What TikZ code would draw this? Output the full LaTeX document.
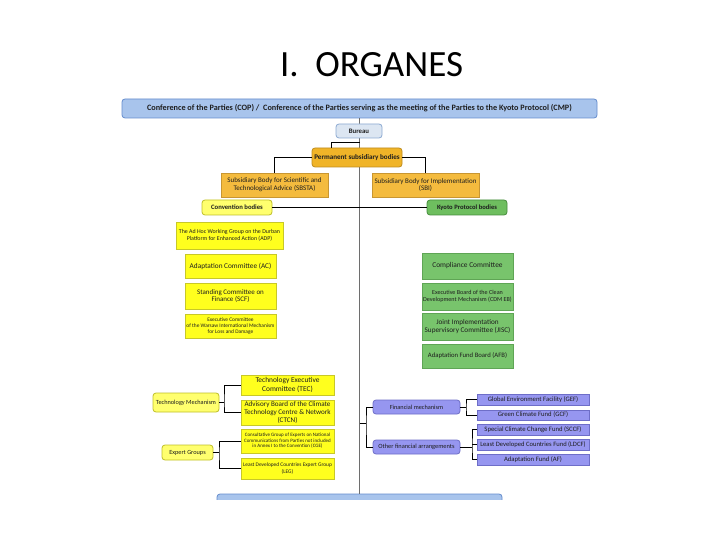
\documentclass[tikz,border=0pt]{standalone}
\usepackage{fontspec}
\setmainfont{Carlito}
\usetikzlibrary{calc}
\definecolor{copfill}{RGB}{168,196,236}
\definecolor{copdraw}{RGB}{100,140,205}
\definecolor{burfill}{RGB}{220,230,242}
\definecolor{burdraw}{RGB}{140,170,210}
\definecolor{permfill}{RGB}{240,180,40}
\definecolor{permdraw}{RGB}{190,140,30}
\definecolor{sbfill}{RGB}{244,187,62}
\definecolor{sbdraw}{RGB}{200,150,50}
\definecolor{convfill}{RGB}{255,255,110}
\definecolor{convdraw}{RGB}{190,190,40}
\definecolor{yelfill}{RGB}{255,255,30}
\definecolor{yeldraw}{RGB}{200,200,40}
\definecolor{kyfill}{RGB}{110,190,95}
\definecolor{kydraw}{RGB}{70,140,60}
\definecolor{grfill}{RGB}{120,196,108}
\definecolor{grdraw}{RGB}{95,165,85}
\definecolor{blfill}{RGB}{150,150,240}
\definecolor{bldraw}{RGB}{110,110,200}
\definecolor{txt}{RGB}{30,30,30}
\definecolor{trunkc}{RGB}{110,110,110}
\newcommand\fs[1]{\pgfmathsetmacro\fsb{#1*1.12}\fontsize{#1}{\fsb}\selectfont}
\newcommand\bx[8]{%
  \pgfmathsetmacro\bxw{#4-#2}\pgfmathsetmacro\bxh{#5-#3}%
  \node[#6, minimum width=\bxw pt, minimum height=\bxh pt, inner sep=0pt, align=center, text=txt, font=\fs{#7}] (#1) at ({(#2+#4)/2},{(#3+#5)/2}) {#8};}
\tikzset{
  copbox/.style={draw=copdraw, fill=copfill, rounded corners=3pt, line width=0.8pt},
  burbox/.style={draw=burdraw, fill=burfill, rounded corners=3pt, line width=0.8pt},
  permbox/.style={draw=permdraw, fill=permfill, rounded corners=3pt, line width=0.8pt},
  sbbox/.style={draw=sbdraw, fill=sbfill, line width=0.5pt},
  convbox/.style={draw=convdraw, fill=convfill, rounded corners=3pt, line width=0.8pt},
  yelbox/.style={draw=yeldraw, fill=yelfill, line width=0.5pt},
  kybox/.style={draw=kydraw, fill=kyfill, rounded corners=3pt, line width=0.8pt},
  grbox/.style={draw=grdraw, fill=grfill, line width=0.5pt},
  blrbox/.style={draw=bldraw, fill=blfill, rounded corners=3pt, line width=0.8pt},
  blbox/.style={draw=bldraw, fill=blfill, line width=0.5pt},
  conn/.style={draw=black, line width=1pt},
  trunk/.style={draw=trunkc, line width=1pt},
}
\begin{document}
\begin{tikzpicture}[x=1pt,y=-1pt]
\path[fill=white] (0,0) rectangle (720,540);
\useasboundingbox (0,0) rectangle (720,540);
\node[anchor=base, text=black, font=\fs{37}] (title) at (371.5,77) {I.\ \ ORGANES};
% COP bar
\bx{cop}{122}{99}{597}{118}{copbox}{8.2}{\bfseries Conference of the Parties (COP) /\ \ Conference of the Parties serving as the meeting of the Parties to the Kyoto Protocol (CMP)}
% bottom bar (clipped)
\begin{scope}
\clip (200,488) rectangle (520,499);
\bx{bot}{217}{494}{502}{512}{copbox}{6}{}
\end{scope}
% trunk
\draw[trunk] (cop.south) -- (bot.north);
% Bureau and permanent bodies
\bx{bur}{336}{124}{382}{138}{burbox}{6.8}{\bfseries Bureau}
\coordinate (bj) at (359.5,143);
\coordinate (bk) at (331,143);
\bx{perm}{312}{148}{402}{167}{permbox}{7.1}{\bfseries Permanent subsidiary bodies}
\draw[conn] (bj) -- (bk) -- (bk |- perm.north);
\bx{sbsta}{221}{173}{328}{197}{sbbox}{7.0}{Subsidiary Body for Scientific and\\Technological Advice (SBSTA)}
\bx{sbi}{372}{173}{479}{197}{sbbox}{7.0}{Subsidiary Body for Implementation\\(SBI)}
\draw[conn] (perm.west) -| (sbsta.north);
\draw[conn] (perm.east) -| (sbi.north);
% Convention / Kyoto
\bx{conv}{202}{200}{272}{215}{convbox}{6.7}{\bfseries Convention bodies}
\bx{kyoto}{427}{200}{507}{215}{kybox}{6.6}{\bfseries Kyoto Protocol bodies}
\draw[conn] (conv.east) -- (kyoto.west);
% Convention bodies column
\bx{adp}{176}{222}{283}{249}{yelbox}{5.9}{The Ad Hoc Working Group on the Durban\\Platform for Enhanced Action (ADP)}
\bx{ac}{185}{254}{276}{278}{yelbox}{7.3}{Adaptation Committee (AC)}
\bx{scf}{185}{283}{276}{309}{yelbox}{7.0}{Standing Committee on\\Finance (SCF)}
\bx{wim}{185}{314}{276}{338}{yelbox}{5.4}{Executive Committee\\of the Warsaw International Mechanism\\for Loss and Damage}
% Kyoto bodies column
\bx{cc}{422}{253}{513}{279}{grbox}{7.4}{Compliance Committee}
\bx{cdm}{422}{283}{513}{310}{grbox}{6.1}{Executive Board of the Clean\\Development Mechanism (CDM EB)}
\bx{jisc}{422}{313}{513}{340}{grbox}{7.2}{Joint Implementation\\Supervisory Committee (JISC)}
\bx{afb}{422}{344}{513}{368}{grbox}{6.7}{Adaptation Fund Board (AFB)}
% Technology mechanism
\bx{techm}{153}{393}{219}{412}{convbox}{6.3}{Technology Mechanism}
\bx{tec}{241}{375}{334}{395}{yelbox}{7.4}{Technology Executive\\Committee (TEC)}
\bx{ctcn}{241}{400}{334}{425}{yelbox}{7.1}{Advisory Board of the Climate\\Technology Centre \& Network\\(CTCN)}
\coordinate (tmj) at (224,402.5);
\draw[conn] (techm.east) -- (tmj);
\draw[conn] (tec.west) -| (tmj) |- (ctcn.west);
% Expert groups
\bx{expg}{162}{445}{213}{460}{convbox}{6.3}{Expert Groups}
\bx{cge}{241}{429}{334}{453}{yelbox}{5.0}{Consultative Group of Experts on National\\Communications from Parties not included\\in Annex I to the Convention (CGE)}
\bx{leg}{241}{458}{334}{479}{yelbox}{5.4}{Least Developed Countries Expert Group\\(LEG)}
\coordinate (egj) at (219,452.5);
\draw[conn] (expg.east) -- (egj);
\draw[conn] (cge.west) -| (egj) |- (leg.west);
% Financial
\bx{finm}{373}{400}{460}{414}{blrbox}{6.3}{Financial mechanism}
\bx{other}{373}{440}{460}{454}{blrbox}{6.4}{Other financial arrangements}
\coordinate (ft) at (359.5,423);
\coordinate (fj) at (366,423);
\draw[conn] (ft) -- (fj);
\draw[conn] (finm.west) -| (fj) |- (other.west);
\bx{gef}{477}{394}{589}{405}{blbox}{6.7}{Global Environment Facility (GEF)}
\bx{gcf}{477}{410}{589}{420}{blbox}{6.7}{Green Climate Fund (GCF)}
\bx{sccf}{477}{424}{589}{435}{blbox}{6.7}{Special Climate Change Fund (SCCF)}
\bx{ldcf}{477}{439}{589}{450}{blbox}{6.6}{Least Developed Countries Fund (LDCF)}
\bx{af}{477}{454}{589}{465}{blbox}{6.7}{Adaptation Fund (AF)}
\coordinate (fmj) at (466,407);
\draw[conn] (finm.east) -- (fmj);
\draw[conn] (gef.west) -| (fmj) |- (gcf.west);
\coordinate (oj) at (472,447);
\draw[conn] (other.east) -- (oj);
\draw[conn] (sccf.west) -| (oj) |- (af.west);
\draw[conn] (ldcf.west) -- (ldcf.west -| oj);
\end{tikzpicture}
\end{document}
